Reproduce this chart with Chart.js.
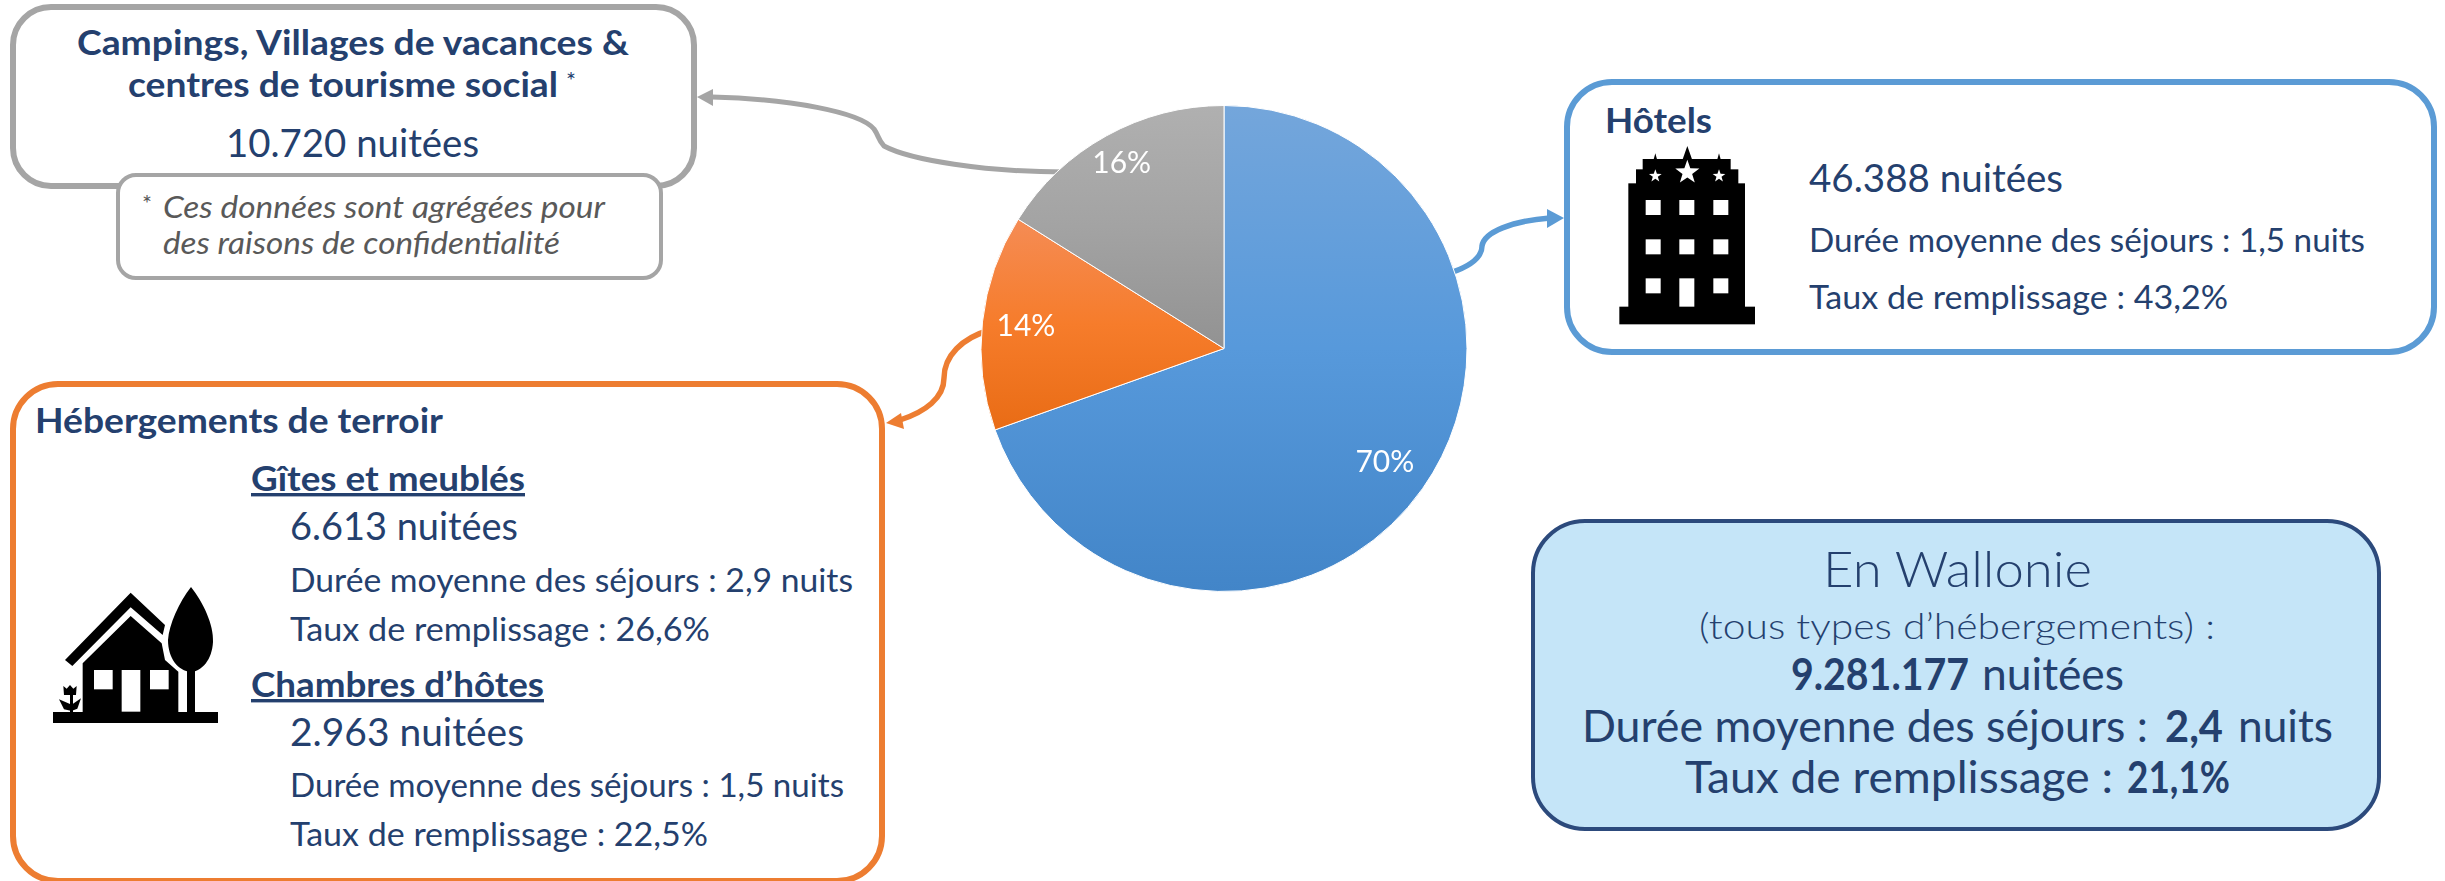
<!DOCTYPE html>
<html lang="fr">
<head>
<meta charset="utf-8">
<title>Nuitées par type d'hébergement</title>
<script src="https://cdn.jsdelivr.net/npm/chart.js@4/dist/chart.umd.min.js"></script>
<style>
  html, body { margin: 0; padding: 0; background: #fff; overflow: hidden; }
  #wrap { position: relative; width: 2445px; height: 881px; }
  #overlay, #pie { position: absolute; left: 0; top: 0; }
  #overlay { width: 2445px; height: 881px; }
  #overlay text { font-family: Lato, sans-serif; fill: #24406e; }
</style>
</head>
<body>
<div id="wrap">
  <svg id="overlay" xmlns="http://www.w3.org/2000/svg" viewBox="0 0 2445 881"></svg>
  <canvas id="pie" width="2445" height="881"></canvas>
</div>
<script>
// nuitees par type, dans l'ordre du camembert
const categories = ['Hôtels', 'Hébergements de terroir', 'Campings, Villages de vacances & centres de tourisme social'];
const nuitees = [46388, 9576, 10720];
const pctLabels = ['70%', '14%', '16%'];

const gradTop = ['#74a6db', '#f58c55', '#b0b0b0'];
const gradMid = ['#5799db', '#f67c2b', '#a3a3a3'];
const gradBottom = ['#4285c8', '#e96c15', '#929292'];
// part de la hauteur du camembert couverte par chaque secteur
const sliceTop = [0, 0.233, 0];
const sliceBottom = [1, 0.667, 0.5];
const labelRadius = [0.81, 0.82, 0.87];

const NS = 'http://www.w3.org/2000/svg';
const overlay = document.getElementById('overlay');

function el(name, attrs) {
    const n = document.createElementNS(NS, name);
    for (const k in attrs) n.setAttribute(k, attrs[k]);
    overlay.appendChild(n);
    return n;
}

function box(x, y, w, h, r, stroke, sw, fill) {
    el('rect', { x, y, width: w, height: h, rx: r, ry: r, fill: fill || '#fff', stroke, 'stroke-width': sw });
}

// texte place par sa ligne de base, largeur imposee
function txt(s, x, y, w, size, opts) {
    opts = opts || {};
    const t = el('text', {
        x, y,
        'font-size': size,
        'font-weight': opts.weight || 400,
        textLength: w,
        lengthAdjust: 'spacingAndGlyphs'
    });
    if (opts.italic) t.setAttribute('font-style', 'italic');
    if (opts.color) t.style.fill = opts.color;
    if (opts.underline) t.style.textDecoration = 'underline';
    t.textContent = s;
}

function connector(d, head, color, sw) {
    el('path', { d, fill: 'none', stroke: color, 'stroke-width': sw });
    el('polygon', { points: head, fill: color });
}

const GRAY = '#a5a5a5', ORANGE = '#ed7d31', BLUE = '#5b9bd5';

connector('M712 97 C790 99 860 112 874 129 C879 136 878 140 884 146 C910 160 985 172 1065 172',
    '697,97 713,89 713,106', GRAY, 5);
connector('M990 330 C962 338 944 356 944 378 C944 398 925 412 900 420',
    '886,423 901,413 904,429', ORANGE, 5.5);
connector('M1450 273 C1468 267 1482 258 1482 246 C1484 232 1512 221 1550 218',
    '1564,218 1547,209 1547,228', BLUE, 5.5);

// campings
box(13, 7, 681, 179, 38, GRAY, 6);
box(118, 175, 543, 103, 18, GRAY, 4);
txt('Campings, Villages de vacances &', 77, 55, 552, 34, { weight: 700 });
txt('centres de tourisme social', 128, 97, 430, 34, { weight: 700 });
txt('*', 566, 89, 10, 24);
txt('10.720 nuitées', 226, 157, 253, 39);
txt('*', 142, 212, 10, 24, { color: '#595959' });
txt('Ces données sont agrégées pour', 163, 218, 442, 30, { italic: true, color: '#595959' });
txt('des raisons de confidentialité', 163, 254, 397, 30, { italic: true, color: '#595959' });

// terroir
box(13, 384, 869, 497, 45, ORANGE, 6);
txt('Hébergements de terroir', 35, 433, 408, 34, { weight: 700 });
txt('Gîtes et meublés', 251, 491, 274, 34, { weight: 700, underline: true });
txt('6.613 nuitées', 290, 540, 228, 39);
txt('Durée moyenne des séjours : 2,9 nuits', 290, 592, 563, 32);
txt('Taux de remplissage : 26,6%', 290, 641, 420, 32);
txt('Chambres d’hôtes', 251, 697, 293, 34, { weight: 700, underline: true });
txt('2.963 nuitées', 290, 746, 234, 39);
txt('Durée moyenne des séjours : 1,5 nuits', 290, 797, 554, 32);
txt('Taux de remplissage : 22,5%', 290, 846, 418, 32);

// hotels
box(1567, 82, 867, 270, 45, BLUE, 6);
txt('Hôtels', 1605, 133, 107, 34, { weight: 700 });
txt('46.388 nuitées', 1809, 192, 254, 39);
txt('Durée moyenne des séjours : 1,5 nuits', 1809, 252, 556, 32);
txt('Taux de remplissage : 43,2%', 1809, 309, 419, 32);

// wallonie
box(1533, 521, 846, 308, 52, '#2c4a7c', 4, '#c5e5f8');
txt('En Wallonie', 1823, 587, 269, 50, { weight: 300 });
txt('(tous types d’hébergements) :', 1699, 639, 516, 36, { weight: 300 });
txt('9.281.177', 1791, 690, 178, 44, { weight: 700 });
txt('nuitées', 1982, 690, 142, 44);
txt('Durée moyenne des séjours :', 1582, 742, 566, 44);
txt('2,4', 2165, 742, 58, 44, { weight: 700 });
txt('nuits', 2238, 742, 95, 44);
txt('Taux de remplissage :', 1685, 793, 428, 44);
txt('21,1%', 2127, 793, 103, 44, { weight: 700 });

// icone maison
function houseIcon(ox, oy) {
    const g = (pts) => pts.map(p => (ox + p[0] / 3) + ',' + (oy + p[1] / 3)).join(' ');
    el('rect', { x: ox + 13, y: oy + 132, width: 165, height: 11, fill: '#000' });
    el('polygon', { points: g([[75, 240], [272, 38], [375, 135], [368, 165], [272, 82], [97, 258]]), fill: '#000' });
    el('polygon', { points: g([[128, 396], [128, 250], [272, 108], [365, 190], [375, 240], [415, 275], [415, 396]]), fill: '#000' });
    [[162, 270, 56, 58], [245, 270, 56, 125], [330, 270, 56, 58]].forEach(r => {
        el('rect', { x: ox + r[0] / 3, y: oy + r[1] / 3, width: r[2] / 3, height: r[3] / 3, fill: '#fff' });
    });
    el('path', {
        d: `M${ox + 151} ${oy + 7} C${ox + 163} ${oy + 22} ${ox + 174} ${oy + 45} ${ox + 173} ${oy + 62} C${ox + 172} ${oy + 80} ${ox + 162} ${oy + 91} ${ox + 151} ${oy + 92} C${ox + 138} ${oy + 91} ${ox + 128} ${oy + 78} ${ox + 128} ${oy + 60} C${ox + 129} ${oy + 45} ${ox + 139} ${oy + 22} ${ox + 151} ${oy + 7} Z`,
        fill: '#000'
    });
    el('rect', { x: ox + 147, y: oy + 88, width: 8, height: 44, fill: '#000' });
    // tulipe
    el('polygon', { points: g([[70, 318], [80, 326], [90, 315], [100, 326], [110, 318], [108, 345], [72, 345]]), fill: '#000' });
    el('rect', { x: ox + 30, y: oy + 113, width: 3, height: 20, fill: '#000' });
    el('polygon', { points: g([[57, 358], [90, 372], [92, 392], [72, 388]]), fill: '#000' });
    el('polygon', { points: g([[123, 355], [98, 372], [96, 392], [112, 386]]), fill: '#000' });
}
houseIcon(40, 580);

// icone hotel
function hotelIcon(ox, oy) {
    const rect = (x, y, w, h, c) => el('rect', { x: ox + x / 3, y: oy + y / 3, width: w / 3, height: h / 3, fill: c });
    const tri = (cx, top, half, base) => el('polygon', {
        points: `${ox + cx / 3},${oy + top / 3} ${ox + (cx - half) / 3},${oy + base / 3} ${ox + (cx + half) / 3},${oy + base / 3}`,
        fill: '#000'
    });
    const star = (cx, cy, r) => {
        const pts = [];
        for (let i = 0; i < 10; i++) {
            const a = -Math.PI / 2 + i * Math.PI / 5;
            const rr = i % 2 ? r * 0.4 : r;
            pts.push((ox + (cx + rr * Math.cos(a)) / 3) + ',' + (oy + (cy + rr * Math.sin(a)) / 3));
        }
        el('polygon', { points: pts.join(' '), fill: '#fff' });
    };
    rect(28, 500, 407, 53, '#000');
    rect(55, 130, 350, 372, '#000');
    rect(78, 88, 307, 44, '#000');
    rect(98, 57, 264, 33, '#000');
    tri(232, 18, 14, 58);
    tri(136, 40, 5, 58);
    tri(327, 40, 5, 58);
    star(232, 97, 38);
    star(136, 108, 20);
    star(327, 108, 20);
    [107, 208, 310].forEach(x => {
        rect(x, 180, 45, 45, '#fff');
        rect(x, 298, 45, 45, '#fff');
    });
    rect(107, 415, 45, 45, '#fff');
    rect(208, 415, 45, 85, '#fff');
    rect(310, 415, 45, 45, '#fff');
}
hotelIcon(1610, 140);

const pctPlugin = {
    id: 'pctLabels',
    afterDatasetsDraw(chart) {
        const ctx = chart.ctx;
        const arcs = chart.getDatasetMeta(0).data;
        ctx.save();
        ctx.fillStyle = '#fff';
        ctx.font = '400 30px Lato, sans-serif';
        ctx.textAlign = 'center';
        ctx.textBaseline = 'middle';
        arcs.forEach((arc, i) => {
            const mid = (arc.startAngle + arc.endAngle) / 2;
            const r = arc.outerRadius * labelRadius[i];
            ctx.fillText(pctLabels[i], arc.x + Math.cos(mid) * r, arc.y + Math.sin(mid) * r);
        });
        ctx.restore();
    }
};

new Chart(document.getElementById('pie').getContext('2d'), {
    type: 'pie',
    data: {
        labels: categories,
        datasets: [{
            data: nuitees,
            backgroundColor: function(c) {
                const area = c.chart.chartArea;
                const i = c.dataIndex;
                if (!area) return gradMid[i];
                const h = area.bottom - area.top;
                const g = c.chart.ctx.createLinearGradient(0, area.top + h * sliceTop[i], 0, area.top + h * sliceBottom[i]);
                g.addColorStop(0, gradTop[i]);
                g.addColorStop(0.5, gradMid[i]);
                g.addColorStop(1, gradBottom[i]);
                return g;
            },
            borderColor: '#fff',
            borderWidth: 1,
            hoverOffset: 0
        }]
    },
    options: {
        responsive: false,
        animation: false,
        layout: { padding: { left: 980, right: 977, top: 105, bottom: 289 } },
        plugins: { legend: { display: false }, tooltip: { enabled: false } }
    },
    plugins: [pctPlugin]
});
</script>
</body>
</html>
